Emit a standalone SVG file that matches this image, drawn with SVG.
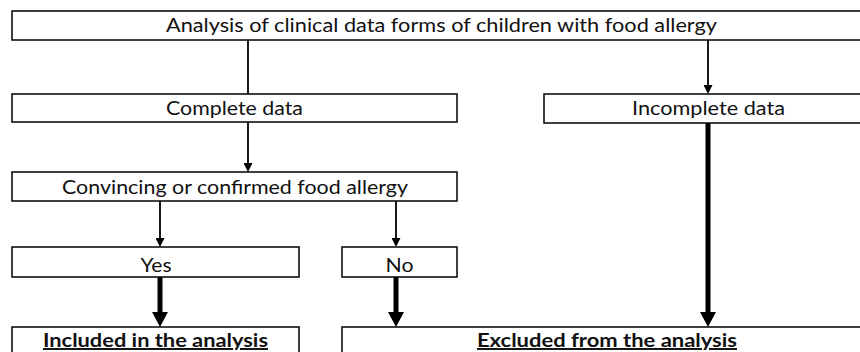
<svg xmlns="http://www.w3.org/2000/svg" width="860" height="352" viewBox="0 0 860 352">
<defs>
<style>
.box{fill:#fff;stroke:#000;stroke-width:1.5}
.t{font-family:Lato,"Open Sans","Liberation Sans",sans-serif;font-size:19.5px;fill:#111;text-anchor:middle}
.b{font-weight:bold;text-decoration:underline}
.thin{stroke:#000;stroke-width:1.8;fill:none}
.thick{stroke:#000;stroke-width:5;fill:none}
</style>
<marker id="ah" markerUnits="userSpaceOnUse" markerWidth="9" markerHeight="9" refX="4" refY="4.5" orient="auto"><path d="M0,0 L9,4.5 L0,9 z" fill="#000"/></marker>
<marker id="ahT" markerUnits="userSpaceOnUse" markerWidth="15" markerHeight="16" refX="5" refY="8" orient="auto"><path d="M0,0 L15,8 L0,16 z" fill="#000"/></marker>
</defs>
<rect width="860" height="352" fill="#fff"/>
<g id="connectors">
<line class="thin" x1="248" y1="40" x2="248" y2="94"/>
<line class="thin" x1="708" y1="40" x2="708" y2="89" marker-end="url(#ah)"/>
<line class="thin" x1="248" y1="122" x2="248" y2="167" marker-end="url(#ah)"/>
<line class="thin" x1="160" y1="201" x2="160" y2="242" marker-end="url(#ah)"/>
<line class="thin" x1="396" y1="201" x2="396" y2="242" marker-end="url(#ah)"/>
<line class="thick" x1="160" y1="277" x2="160" y2="317" marker-end="url(#ahT)"/>
<line class="thick" x1="396" y1="277" x2="396" y2="317" marker-end="url(#ahT)"/>
<line class="thick" x1="708" y1="123" x2="708" y2="317" marker-end="url(#ahT)"/>
</g>
<g id="n-analysis"><rect class="box" x="12" y="11" width="870" height="29"/><text class="t" x="441.5" y="32" textLength="551" lengthAdjust="spacingAndGlyphs">Analysis of clinical data forms of children with food allergy</text></g>
<g id="n-complete"><rect class="box" x="12" y="94" width="445" height="28"/><text class="t" x="234.5" y="115" textLength="137" lengthAdjust="spacingAndGlyphs">Complete data</text></g>
<g id="n-incomplete"><rect class="box" x="544" y="94" width="340" height="29"/><text class="t" x="708.5" y="115" textLength="153" lengthAdjust="spacingAndGlyphs">Incomplete data</text></g>
<g id="n-convincing"><rect class="box" x="12" y="172" width="445" height="29"/><text class="t" x="235" y="194" textLength="346" lengthAdjust="spacingAndGlyphs">Convincing or confirmed food allergy</text></g>
<g id="n-yes"><rect class="box" x="12" y="247" width="287" height="30"/><text class="t" x="156" y="271.5" textLength="31" lengthAdjust="spacingAndGlyphs">Yes</text></g>
<g id="n-no"><rect class="box" x="342" y="247" width="115" height="30"/><text class="t" x="399.5" y="271.5" textLength="28" lengthAdjust="spacingAndGlyphs">No</text></g>
<g id="n-included"><rect class="box" x="12" y="327" width="287" height="40"/><text class="t b" x="155.5" y="347" textLength="225" lengthAdjust="spacingAndGlyphs">Included in the analysis</text></g>
<g id="n-excluded"><rect class="box" x="342" y="327" width="540" height="40"/><text class="t b" x="607" y="347" textLength="260" lengthAdjust="spacingAndGlyphs">Excluded from the analysis</text></g>
</svg>
